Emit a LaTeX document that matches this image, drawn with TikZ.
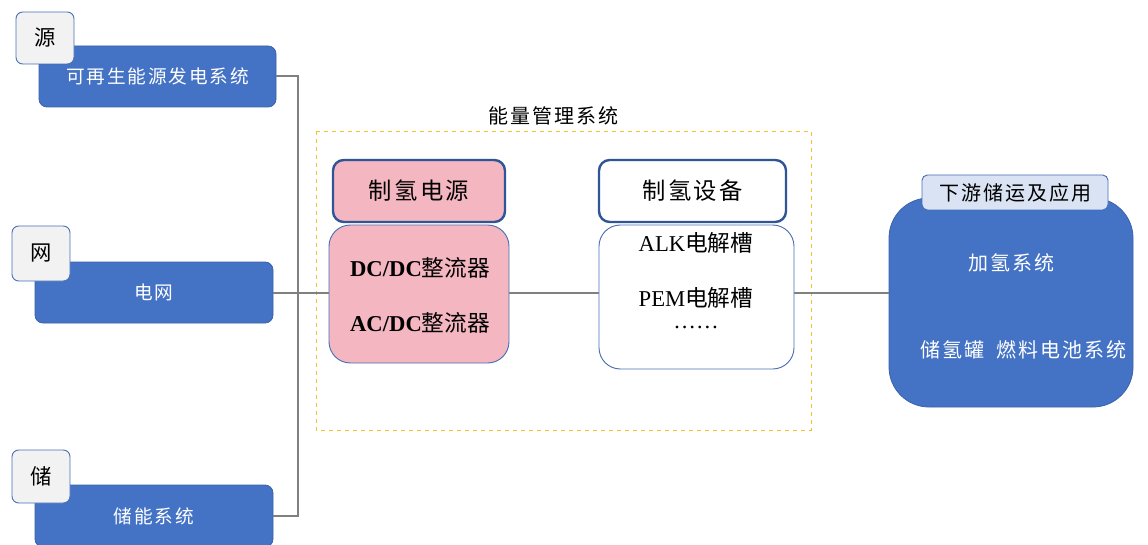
\documentclass[tikz,border=0pt]{standalone}
\usepackage{fontspec}
\setmainfont{Liberation Serif}
\newfontfamily\cjk{Noto Sans CJK SC}
\newfontfamily\cjks[LetterSpace=10]{Noto Sans CJK SC}
\definecolor{mblue}{HTML}{4472C4}
\definecolor{mbluedark}{HTML}{3A63AB}
\definecolor{hborder}{HTML}{2F5597}
\definecolor{tborder}{HTML}{4A6FB5}
\definecolor{tabfill}{HTML}{F2F2F2}
\definecolor{pinkfill}{HTML}{F4B6C0}
\definecolor{lightblue}{HTML}{DAE3F3}
\definecolor{linegray}{HTML}{808080}
\definecolor{gold}{HTML}{F2C12E}
\tikzset{
  bluebox/.style={fill=mblue, draw=mbluedark, line width=0.6pt, rounded corners=6pt, inner sep=0pt, text=white, font=\cjks\fontsize{14}{16}\selectfont},
  tabbox/.style={fill=tabfill, draw=tborder, line width=0.7pt, rounded corners=5pt, inner sep=0pt, minimum width=58*0.75pt, font=\cjk\fontsize{16}{18}\selectfont},
  headbox/.style={draw=hborder, line width=1.8pt, rounded corners=8pt, inner sep=0pt, font=\cjks\fontsize{17.5}{19}\selectfont},
  bodybox/.style={draw=tborder, line width=0.7pt, rounded corners=16pt, inner sep=0pt},
  conn/.style={draw=linegray, line width=1.5pt},
  bodytext/.style={font=\fontsize{17}{19}\selectfont, inner sep=0pt},
  wtext/.style={text=white, font=\cjks\fontsize{15}{17}\selectfont, inner sep=0pt},
}
\begin{document}
\begin{tikzpicture}[x=0.75pt, y=-0.75pt]
\useasboundingbox (0,0) rectangle (1148,545);
% left column
\node[bluebox, minimum width=237*0.75pt, minimum height=61*0.75pt] (src) at (157.5,76.5) {可再生能源发电系统};
\node[tabbox, minimum height=52*0.75pt] (srctab) at (45,38) {源};
\node[bluebox, minimum width=238*0.75pt, minimum height=61*0.75pt] (grid) at (154,292.5) {电网};
\node[tabbox, minimum height=55*0.75pt] (gridtab) at (41,253.5) {网};
\node[bluebox, minimum width=238*0.75pt, minimum height=62*0.75pt] (sto) at (154,516) {储能系统};
\node[tabbox, minimum height=53*0.75pt] (stotab) at (41,476.5) {储};
% energy management frame
\draw[gold, dashed, line width=0.7pt] (316,131) rectangle (811,430);
\node[font=\cjks\fontsize{15}{17}\selectfont, inner sep=0pt] (emslabel) at (553,116) {能量管理系统};
% power supply
\node[headbox, fill=pinkfill, minimum width=172*0.75pt, minimum height=62*0.75pt] (pwrhead) at (419,191) {制氢电源};
\node[bodybox, fill=pinkfill, minimum width=180*0.75pt, minimum height=138*0.75pt] (pwr) at (419,294) {};
\node[bodytext] (dcdc) at (420,268) {\textbf{DC/DC}{\cjk 整流器}};
\node[bodytext] (acdc) at (420,323) {\textbf{AC/DC}{\cjk 整流器}};
% equipment
\node[headbox, fill=white, minimum width=187*0.75pt, minimum height=62*0.75pt] (eqhead) at (692.5,191) {制氢设备};
\node[bodybox, fill=white, minimum width=195*0.75pt, minimum height=144*0.75pt] (eq) at (696.5,297) {};
\node[bodytext] (alk) at (696,243) {ALK{\cjk 电解槽}};
\node[bodytext] (pem) at (696,298) {PEM{\cjk 电解槽}};
\node[bodytext] (dots) at (696,327) {……};
% downstream
\node[bluebox, rounded corners=30pt, minimum width=244*0.75pt, minimum height=209*0.75pt] (ds) at (1011,302.5) {};
\node[fill=lightblue, draw=tborder, line width=0.7pt, rounded corners=4pt, inner sep=0pt, minimum width=186*0.75pt, minimum height=35*0.75pt, font=\cjks\fontsize{15}{17}\selectfont] (dstab) at (1015,192.5) {下游储运及应用};
\node[wtext] (h2sys) at (1011,263) {加氢系统};
\node[wtext] (h2app) at (1023,350) {储氢罐\hspace{0.6em}燃料电池系统};
% connectors
\coordinate (bus) at (298,76.5);
\draw[conn] (src.east) -- (bus) |- (sto.east);
\draw[conn] (grid.east) -- (grid.east -| pwr.west);
\draw[conn] (pwr.east |- grid.east) -- (eq.west |- grid.east);
\draw[conn] (eq.east |- grid.east) -- (ds.west |- grid.east);
\end{tikzpicture}
\end{document}
